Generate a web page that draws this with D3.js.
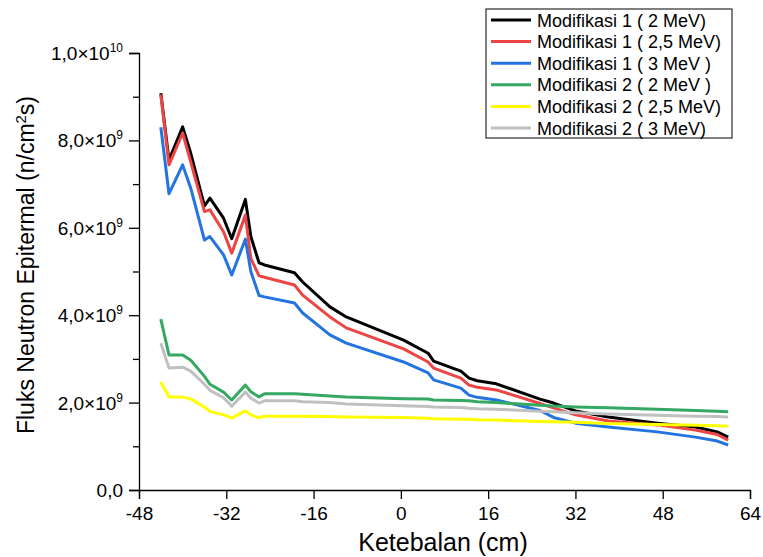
<!DOCTYPE html>
<html>
<head>
<meta charset="utf-8">
<script src="https://cdn.jsdelivr.net/npm/d3@7"></script>
<style>
  body { margin: 0; background: #fff; }
  svg { display: block; font-family: "Liberation Sans", Arial, sans-serif; }
</style>
</head>
<body>
<div id="chart"></div>
<script>
// thickness (cm)
var ketebalan = [-44, -42.5, -40, -38.5, -36, -35, -32.5, -31, -28.5, -27.5, -26, -25,
  -19.5, -18, -13, -10, 0.5, 5, 6, 11, 12.5, 14, 17.5, 25.5, 28, 32, 38, 47, 54, 58, 60];

// flux values in units of 1e9 n/cm2s
var mod1_2 = [9.08, 7.55, 8.31, 7.7, 6.5, 6.68, 6.22, 5.75, 6.65, 5.8, 5.2, 5.15,
  4.97, 4.76, 4.19, 3.96, 3.43, 3.13, 2.95, 2.72, 2.56, 2.5, 2.43, 2.08, 1.99, 1.81, 1.67, 1.53, 1.44, 1.33, 1.21];
var mod1_25 = [9.05, 7.44, 8.17, 7.5, 6.37, 6.41, 5.91, 5.42, 6.29, 5.3, 4.9, 4.87,
  4.69, 4.46, 3.96, 3.71, 3.23, 2.93, 2.79, 2.56, 2.4, 2.35, 2.29, 1.98, 1.88, 1.72, 1.58, 1.49, 1.37, 1.27, 1.14];
var mod1_3 = [8.3, 6.78, 7.44, 6.9, 5.72, 5.8, 5.38, 4.92, 5.74, 5.0, 4.45, 4.42,
  4.28, 4.05, 3.55, 3.36, 2.93, 2.68, 2.52, 2.33, 2.17, 2.12, 2.06, 1.82, 1.66, 1.53, 1.44, 1.33, 1.21, 1.12, 1.03];
var mod2_2 = [3.91, 3.09, 3.09, 2.97, 2.6, 2.42, 2.24, 2.06, 2.4, 2.25, 2.13, 2.2,
  2.2, 2.19, 2.15, 2.13, 2.09, 2.08, 2.06, 2.05, 2.04, 2.02, 2.0, 1.94, 1.92, 1.9, 1.88, 1.85, 1.82, 1.8, 1.79];
var mod2_25 = [2.47, 2.13, 2.13, 2.08, 1.9, 1.8, 1.72, 1.65, 1.81, 1.72, 1.65, 1.69,
  1.69, 1.69, 1.68, 1.67, 1.66, 1.64, 1.63, 1.62, 1.62, 1.61, 1.6, 1.57, 1.56, 1.55, 1.52, 1.5, 1.48, 1.47, 1.46];
var mod2_3 = [3.36, 2.79, 2.81, 2.72, 2.42, 2.28, 2.11, 1.92, 2.24, 2.1, 1.99, 2.04,
  2.04, 2.02, 2.0, 1.97, 1.93, 1.91, 1.9, 1.89, 1.87, 1.86, 1.85, 1.8, 1.79, 1.77, 1.74, 1.71, 1.69, 1.68, 1.67];

var seriesNames = ["Modifikasi 1 ( 2 MeV)", "Modifikasi 1 ( 2,5 MeV)", "Modifikasi 1 ( 3 MeV )",
  "Modifikasi 2 ( 2 MeV )", "Modifikasi 2 ( 2,5 MeV)", "Modifikasi 2 ( 3 MeV)"];
var seriesColors = ["#000000", "#ee4444", "#2374e1", "#35a862", "#ffff00", "#c0c0c0"];
var seriesValues = [mod1_2, mod1_25, mod1_3, mod2_2, mod2_25, mod2_3];

var xTicks = [-48, -32, -16, 0, 16, 32, 48, 64];
var yTickMantissa = ["0,0", "2,0", "4,0", "6,0", "8,0", "1,0"];
var yTickExp = [null, "9", "9", "9", "9", "10"];

var width = 763, height = 557;
var margin = {left: 139, right: 13, top: 53, bottom: 67};

var svg = d3.select("#chart").append("svg")
  .attr("width", width)
  .attr("height", height);

var x = d3.scaleLinear().domain([-48, 64]).range([margin.left, width - margin.right]);
var y = d3.scaleLinear().domain([0, 10]).range([height - margin.bottom, margin.top]);

// x axis
var xAxis = svg.append("g")
  .attr("transform", "translate(0," + y(0) + ")")
  .call(d3.axisBottom(x).tickValues(xTicks).tickSize(9).tickPadding(8).tickFormat(d3.format("d")));
xAxis.select(".domain").attr("stroke", "#000").attr("stroke-width", 1.3);
xAxis.selectAll(".tick line").attr("stroke-width", 1.3);
xAxis.selectAll(".tick text").attr("font-size", 19).attr("fill", "#000")
  .text(function(d) { return d < 0 ? "-" + Math.abs(d) : d; });

// y axis with minor ticks
var yAxis = svg.append("g")
  .attr("transform", "translate(" + x(-48) + ",0)")
  .call(d3.axisLeft(y).tickValues(d3.range(0, 11, 2)).tickSize(10).tickFormat(""));
yAxis.select(".domain").attr("stroke", "#000").attr("stroke-width", 1.3);
yAxis.selectAll(".tick line").attr("stroke-width", 1.3);

svg.append("g")
  .attr("transform", "translate(" + x(-48) + ",0)")
  .call(d3.axisLeft(y).tickValues(d3.range(1, 10, 2)).tickSize(6).tickFormat(""))
  .call(function(g) { g.select(".domain").remove(); })
  .selectAll(".tick line").attr("stroke-width", 1.3);

var yLab = svg.append("g").selectAll("text")
  .data(d3.range(0, 11, 2))
  .enter().append("text")
  .attr("x", x(-48) - 16)
  .attr("y", function(d) { return y(d) + 7; })
  .attr("text-anchor", "end")
  .attr("font-size", 19)
  .attr("fill", "#000");
yLab.each(function(d, i) {
  var t = d3.select(this);
  if (yTickExp[i] === null) {
    t.text(yTickMantissa[i]);
  } else {
    t.append("tspan").text(yTickMantissa[i] + "\u00d710");
    t.append("tspan").attr("dy", -8).attr("font-size", 12).text(yTickExp[i]);
  }
});

// axis titles
svg.append("text")
  .attr("x", 443)
  .attr("y", 551)
  .attr("text-anchor", "middle")
  .attr("font-size", 25)
  .text("Ketebalan (cm)");

var yTitle = svg.append("text")
  .attr("transform", "translate(34,265) rotate(-90)")
  .attr("text-anchor", "middle")
  .attr("font-size", 23);
yTitle.append("tspan").text("Fluks Neutron Epitermal (n/cm");
yTitle.append("tspan").attr("dy", -8).attr("font-size", 15).text("2");
yTitle.append("tspan").attr("dy", 8).text("s)");

// lines
var line = d3.line()
  .x(function(d) { return x(d[0]); })
  .y(function(d) { return y(d[1]); });

svg.append("g").selectAll("path")
  .data(seriesValues)
  .enter().append("path")
  .attr("fill", "none")
  .attr("stroke", function(d, i) { return seriesColors[i]; })
  .attr("stroke-width", 3)
  .attr("stroke-linejoin", "round")
  .attr("d", function(vals) { return line(ketebalan.map(function(k, j) { return [k, vals[j]]; })); });

// legend
var legend = svg.append("g").attr("transform", "translate(486,9)");
legend.append("rect")
  .attr("width", 246).attr("height", 129)
  .attr("fill", "#fff").attr("stroke", "#000").attr("stroke-width", 1);
var item = legend.selectAll("g.item")
  .data(seriesNames)
  .enter().append("g")
  .attr("class", "item")
  .attr("transform", function(d, i) { return "translate(0," + (11 + i * 21.6) + ")"; });
item.append("line")
  .attr("x1", 5).attr("x2", 45)
  .attr("stroke", function(d, i) { return seriesColors[i]; })
  .attr("stroke-width", 3);
item.append("text")
  .attr("x", 51).attr("y", 6.5)
  .attr("font-size", 18)
  .text(function(d) { return d; });
</script>
</body>
</html>
